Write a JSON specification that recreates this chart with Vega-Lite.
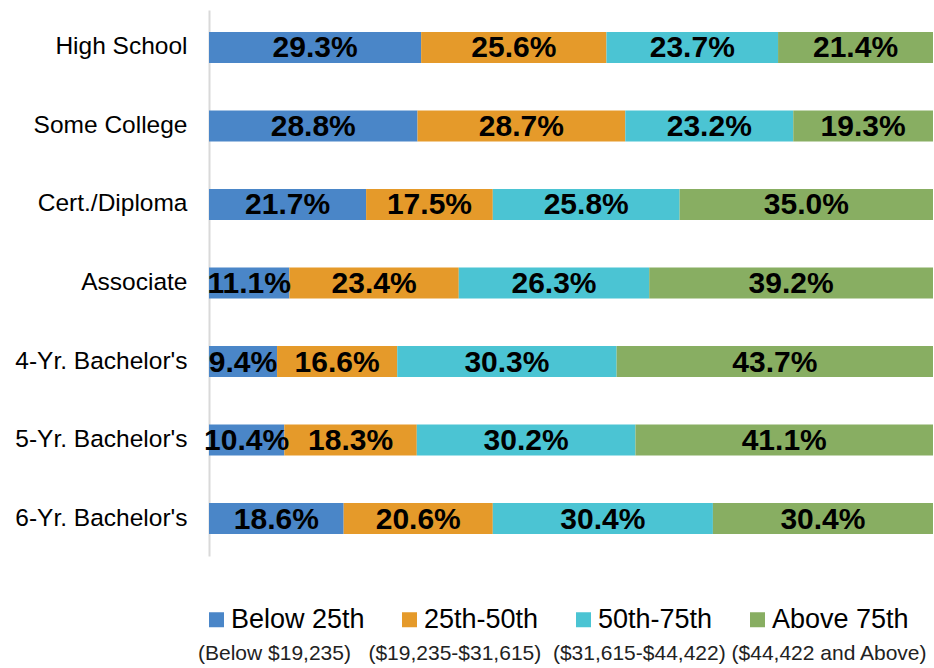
{
  "$schema": "https://vega.github.io/schema/vega-lite/v6.json",
  "width": 724,
  "height": 546,
  "autosize": {"type": "none"},
  "padding": {"left": 209, "top": 10, "right": 1, "bottom": 112},
  "background": "white",
  "config": {
    "view": {"stroke": null},
    "font": "Liberation Sans"
  },
  "data": {
    "values": [
      {"cat": "High School", "level": "Below 25th", "ord": 1, "value": 29.3},
      {"cat": "High School", "level": "25th-50th", "ord": 2, "value": 25.6},
      {"cat": "High School", "level": "50th-75th", "ord": 3, "value": 23.7},
      {"cat": "High School", "level": "Above 75th", "ord": 4, "value": 21.4},
      {"cat": "Some College", "level": "Below 25th", "ord": 1, "value": 28.8},
      {"cat": "Some College", "level": "25th-50th", "ord": 2, "value": 28.7},
      {"cat": "Some College", "level": "50th-75th", "ord": 3, "value": 23.2},
      {"cat": "Some College", "level": "Above 75th", "ord": 4, "value": 19.3},
      {"cat": "Cert./Diploma", "level": "Below 25th", "ord": 1, "value": 21.7},
      {"cat": "Cert./Diploma", "level": "25th-50th", "ord": 2, "value": 17.5},
      {"cat": "Cert./Diploma", "level": "50th-75th", "ord": 3, "value": 25.8},
      {"cat": "Cert./Diploma", "level": "Above 75th", "ord": 4, "value": 35.0},
      {"cat": "Associate", "level": "Below 25th", "ord": 1, "value": 11.1},
      {"cat": "Associate", "level": "25th-50th", "ord": 2, "value": 23.4},
      {"cat": "Associate", "level": "50th-75th", "ord": 3, "value": 26.3},
      {"cat": "Associate", "level": "Above 75th", "ord": 4, "value": 39.2},
      {"cat": "4-Yr. Bachelor's", "level": "Below 25th", "ord": 1, "value": 9.4},
      {"cat": "4-Yr. Bachelor's", "level": "25th-50th", "ord": 2, "value": 16.6},
      {"cat": "4-Yr. Bachelor's", "level": "50th-75th", "ord": 3, "value": 30.3},
      {"cat": "4-Yr. Bachelor's", "level": "Above 75th", "ord": 4, "value": 43.7},
      {"cat": "5-Yr. Bachelor's", "level": "Below 25th", "ord": 1, "value": 10.4},
      {"cat": "5-Yr. Bachelor's", "level": "25th-50th", "ord": 2, "value": 18.3},
      {"cat": "5-Yr. Bachelor's", "level": "50th-75th", "ord": 3, "value": 30.2},
      {"cat": "5-Yr. Bachelor's", "level": "Above 75th", "ord": 4, "value": 41.1},
      {"cat": "6-Yr. Bachelor's", "level": "Below 25th", "ord": 1, "value": 18.6},
      {"cat": "6-Yr. Bachelor's", "level": "25th-50th", "ord": 2, "value": 20.6},
      {"cat": "6-Yr. Bachelor's", "level": "50th-75th", "ord": 3, "value": 30.4},
      {"cat": "6-Yr. Bachelor's", "level": "Above 75th", "ord": 4, "value": 30.4}
    ]
  },
  "transform": [
    {"stack": "value", "groupby": ["cat"], "sort": [{"field": "ord", "order": "ascending"}], "as": ["x0", "x1"]},
    {"calculate": "(datum.x0 + datum.x1) / 2", "as": "mid"},
    {"calculate": "format(datum.value, '.1f') + '%'", "as": "label"}
  ],
  "encoding": {
    "y": {
      "field": "cat",
      "type": "nominal",
      "sort": ["High School", "Some College", "Cert./Diploma", "Associate", "4-Yr. Bachelor's", "5-Yr. Bachelor's", "6-Yr. Bachelor's"],
      "scale": {"paddingInner": 0.605, "paddingOuter": 0.28},
      "axis": {
        "title": null,
        "ticks": false,
        "grid": false,
        "domainColor": "#d9d9d9",
        "domainWidth": 2,
        "labelFontSize": 24.5,
        "labelColor": "#000000",
        "labelPadding": 22,
        "labelLimit": 300
      }
    }
  },
  "layer": [
    {
      "mark": {"type": "bar"},
      "encoding": {
        "x": {"field": "x0", "type": "quantitative", "scale": {"domain": [0, 100], "nice": false}, "axis": null},
        "x2": {"field": "x1"},
        "color": {
          "field": "level",
          "type": "nominal",
          "scale": {
            "domain": ["Below 25th", "25th-50th", "50th-75th", "Above 75th"],
            "range": ["#4a86c8", "#e59a2a", "#4bc4d3", "#88ae62"]
          },
          "legend": {
            "orient": "none",
            "legendX": -11,
            "legendY": 596,
            "direction": "horizontal",
            "symbolType": "square",
            "symbolSize": 225,
            "symbolOffset": 5,
            "symbolStrokeWidth": 0,
            "labelFontSize": 27,
            "labelColor": "#000000",
            "labelOffset": 1,
            "labelLimit": 300,
            "columnPadding": 26,
            "title": "(Below $19,235)\u00a0\u00a0\u00a0($19,235-$31,615)\u00a0\u00a0($31,615-$44,422)\u00a0($44,422 and Above)",
            "titleOrient": "bottom",
            "titleFontSize": 21,
            "titleFontWeight": "normal",
            "titleColor": "#222222",
            "titleLimit": 1000,
            "titlePadding": 10,
            "titleAnchor": "start"
          }
        }
      }
    },
    {
      "mark": {"type": "text", "fontSize": 30, "fontWeight": "bold", "color": "#000000", "baseline": "middle", "align": "center", "dy": 1},
      "encoding": {
        "x": {"field": "mid", "type": "quantitative"},
        "text": {"field": "label"}
      }
    }
  ]
}
